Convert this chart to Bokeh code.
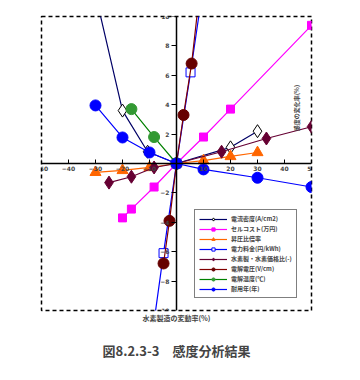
from bokeh.plotting import figure
from bokeh.models import Range1d, FixedTicker, LinearAxis, Title, Legend, Label
from bokeh.embed import file_html
from bokeh.resources import INLINE

# ---- data ----
names = ["電流密度(A/cm2)", "セルコスト(万円)", "昇圧比倍率", "電力料金(円/kWh)",
         "水素製・水素価格比(-)", "電解電圧(V/cm)", "電解温度(℃)", "耐用年(年)"]

cd_x = [-30, -20, -10.7, 0, 20, 30]
cd_y = [11.5, 3.6, 0.8, 0, 1.1, 2.2]

cell_x = [-20, -16.7, -8.3, 0, 10, 20, 50]
cell_y = [-3.7, -3.1, -1.6, 0, 1.8, 3.7, 9.4]

boost_x = [-30, -20, -10, 0, 10, 20, 30]
boost_y = [-0.6, -0.47, -0.27, 0, 0.2, 0.48, 0.75]

power_x = [-10, -4.8, 0, 5.2, 10]
power_y = [-13.0, -6.1, 0, 6.2, 12.2]

ratio_x = [-25, -16.7, -8.3, 0, 16.7, 33.3, 50]
ratio_y = [-1.3, -0.9, -0.27, 0, 0.8, 1.7, 2.5]

volt_x = [-4.8, -2.6, 0, 2.6, 5.6, 10]
volt_y = [-6.8, -3.9, 0, 3.3, 6.8, 14.0]

temp_x = [-16.7, -8.3, 0]
temp_y = [3.7, 1.8, 0]

life_x = [-30, -20, -10, 0, 10, 30, 50]
life_y = [3.95, 1.77, 0.75, 0, -0.4, -0.97, -1.6]

x_ticks = [-50, -40, -30, -20, -10, 10, 20, 30, 40, 50]
y_ticks = [-10, -8, -6, -4, -2, 2, 4, 6, 8, 10]

x_label = "水素製造の変動率(%)"
y_label = "感度の変化率(%)"
caption = "図8.2.3-3　感度分析結果"

FONT = "Noto Sans CJK JP"

p = figure(width=344, height=372, output_backend="svg", toolbar_location=None,
           x_range=Range1d(-50, 50), y_range=Range1d(-10, 10),
           min_border_left=41, min_border_right=33, min_border_top=16, min_border_bottom=62,
           x_axis_location=None, y_axis_location=None)
p.xgrid.visible = False
p.ygrid.visible = False
p.outline_line_color = "black"
p.outline_line_dash = "4 3"
p.outline_line_width = 1.5
p.background_fill_color = "white"
p.border_fill_color = "white"

# axes crossing at origin
xa = LinearAxis(ticker=FixedTicker(ticks=x_ticks), fixed_location=0)
ya = LinearAxis(ticker=FixedTicker(ticks=y_ticks), fixed_location=0)
for ax in (xa, ya):
    ax.axis_line_width = 1.5
    ax.axis_line_color = "black"
    ax.major_tick_line_color = "black"
    ax.major_tick_line_width = 1
    ax.minor_tick_line_color = None
    ax.major_label_text_font_size = "6px"
    ax.major_label_text_font_style = "bold"
    ax.major_label_text_font = "DejaVu Sans"
xa.major_tick_in = 4
xa.major_tick_out = 0
xa.major_label_standoff = 2
ya.major_tick_in = 0
ya.major_tick_out = 5
ya.major_label_standoff = 2
p.add_layout(xa, "below")
p.add_layout(ya, "left")

# bottom axis carrying only the x label
xl = LinearAxis(axis_label=x_label, axis_line_color=None, major_tick_line_color=None,
                minor_tick_line_color=None, major_label_text_font_size="0px",
                axis_label_text_font_size="7px", axis_label_text_font_style="bold",
                axis_label_text_font=FONT, axis_label_standoff=2,
                ticker=FixedTicker(ticks=[]))
p.add_layout(xl, "below")

p.add_layout(Title(text=caption, align="center", text_font_size="13px",
                   text_font=FONT, text_font_style="bold", standoff=26), "below")

items = []
def series(xs, ys, name, lc, marker, size, fill, mline):
    r1 = p.line(xs, ys, line_color=lc, line_width=1.2)
    r2 = p.scatter(xs, ys, marker=marker, size=size, fill_color=fill, line_color=mline, line_width=1)
    items.append((name, [r1, r2]))

series(cd_x, cd_y, names[0], "#000066", "diamond", 13, "white", "black")
series(cell_x, cell_y, names[1], "#FF00FF", "square", 8, "#FF00FF", "#FF00FF")
series(boost_x, boost_y, names[2], "#FF6600", "triangle", 11, "#FF6600", "#FF6600")
series(power_x, power_y, names[3], "#0000FF", "square", 9, "white", "#0000FF")
series(ratio_x, ratio_y, names[4], "#660033", "diamond", 13, "#660033", "#660033")
series(volt_x, volt_y, names[5], "#800000", "circle", 11, "#660000", "#660000")
series(temp_x, temp_y, names[6], "#008000", "circle", 11, "#339933", "#339933")
series(life_x, life_y, names[7], "#0000FF", "circle", 11, "#0000FF", "#0000FF")

legend = Legend(items=items, location=(153, 12), orientation="vertical",
                label_text_font_size="6px", label_text_font=FONT, label_text_font_style="bold",
                label_height=8, glyph_height=8, glyph_width=28, spacing=1,
                padding=4, margin=0, label_standoff=4,
                border_line_color="black", border_line_width=1.5,
                background_fill_color="white", background_fill_alpha=1)
p.add_layout(legend, "center")

p.add_layout(Label(x=46, y=2.2, text=y_label, angle=1.5708, text_font_size="6px",
                   text_font=FONT, text_font_style="bold"))

open("out.html", "w").write(file_html(p, INLINE))
